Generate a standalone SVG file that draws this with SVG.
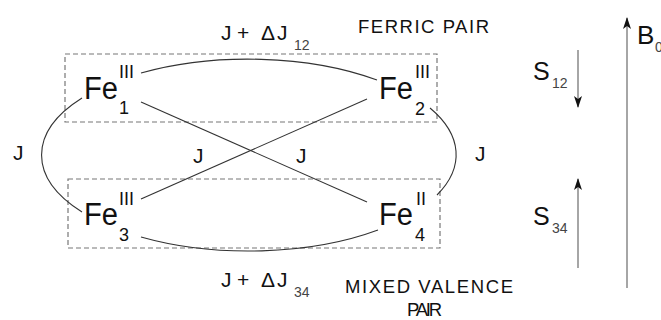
<svg xmlns="http://www.w3.org/2000/svg" width="661" height="320" viewBox="0 0 661 320">
<style>
text{font-family:"Liberation Sans",Arial,Helvetica,sans-serif;fill:#111}
.fe{font-size:31px}
.sup{font-size:18px}
.lbl{font-size:21px}
.sub{font-size:14px;fill:#444}
.cap{font-size:18.5px}
.big{font-size:25px}
.conn{fill:none;stroke:#333;stroke-width:1.1}
.box{fill:none;stroke:#777;stroke-width:1.2;stroke-dasharray:5,3}
.arr{stroke:#888;stroke-width:1.5;fill:none}
</style>
<defs>
<marker id="ah" viewBox="0 0 12 8" refX="11" refY="4" markerWidth="12" markerHeight="8" markerUnits="userSpaceOnUse" orient="auto">
<path d="M0,0 L12,4 L0,8 L3,4 Z" fill="#111"/>
</marker>
</defs>
<g id="boxes">
<rect class="box" x="65" y="54" width="372" height="68"/>
<rect class="box" x="68" y="179" width="372" height="69"/>
</g>
<g id="connectors">
<path class="conn" d="M141,73 A207,96 0 0 1 377,80"/>
<path class="conn" d="M430,108 A207,96 0 0 1 437,195"/>
<path class="conn" d="M378,230 A207,96 0 0 1 141,237"/>
<path class="conn" d="M82,212 A207,96 0 0 1 82,98"/>
<line class="conn" x1="141" y1="102" x2="367" y2="202"/>
<line class="conn" x1="141" y1="199" x2="367" y2="99"/>
</g>
<g id="fe1"><text class="fe" x="84" y="99" textLength="34" lengthAdjust="spacingAndGlyphs">Fe</text><text class="sup" x="119" y="78">III</text><text class="sup" x="119" y="114">1</text></g>
<g id="fe2"><text class="fe" x="379" y="99" textLength="34" lengthAdjust="spacingAndGlyphs">Fe</text><text class="sup" x="415" y="78">III</text><text class="sup" x="415" y="115">2</text></g>
<g id="fe3"><text class="fe" x="84" y="225" textLength="34" lengthAdjust="spacingAndGlyphs">Fe</text><text class="sup" x="119" y="205">III</text><text class="sup" x="119" y="241">3</text></g>
<g id="fe4"><text class="fe" x="379" y="225" textLength="34" lengthAdjust="spacingAndGlyphs">Fe</text><text class="sup" x="416" y="205">II</text><text class="sup" x="415" y="241">4</text></g>
<g id="labels">
<text class="lbl" x="221" y="40">J</text><text class="lbl" x="237" y="40">+</text><text class="lbl" x="261" y="40">Δ</text><text class="lbl" x="277" y="40">J</text><text class="sub" x="294" y="50">12</text>
<text class="lbl" x="221" y="287">J</text><text class="lbl" x="237" y="287">+</text><text class="lbl" x="261" y="287">Δ</text><text class="lbl" x="277" y="287">J</text><text class="sub" x="294" y="297">34</text>
<text class="lbl" x="13" y="160">J</text>
<text class="lbl" x="475" y="161">J</text>
<text class="lbl" x="193" y="163">J</text>
<text class="lbl" x="296" y="163">J</text>
<text class="cap" x="358" y="33" textLength="131" lengthAdjust="spacing">FERRIC PAIR</text>
<text class="cap" x="345" y="293" textLength="168" lengthAdjust="spacing">MIXED VALENCE</text>
<text class="cap" x="407" y="316" textLength="35" lengthAdjust="spacing">PAIR</text>
<text class="big" x="533" y="80">S</text><text class="sub" x="552" y="88">12</text>
<text class="big" x="533" y="225">S</text><text class="sub" x="552" y="233">34</text>
<text style="font-size:26px" x="637" y="44">B</text><text class="sub" x="655" y="52">0</text>
</g>
<g id="spins">
<line class="arr" x1="578" y1="50" x2="578" y2="107" marker-end="url(#ah)"/>
<line class="arr" x1="578" y1="268" x2="578" y2="179" marker-end="url(#ah)"/>
<line class="arr" x1="627" y1="288" x2="627" y2="18" marker-end="url(#ah)"/>
</g>
</svg>
